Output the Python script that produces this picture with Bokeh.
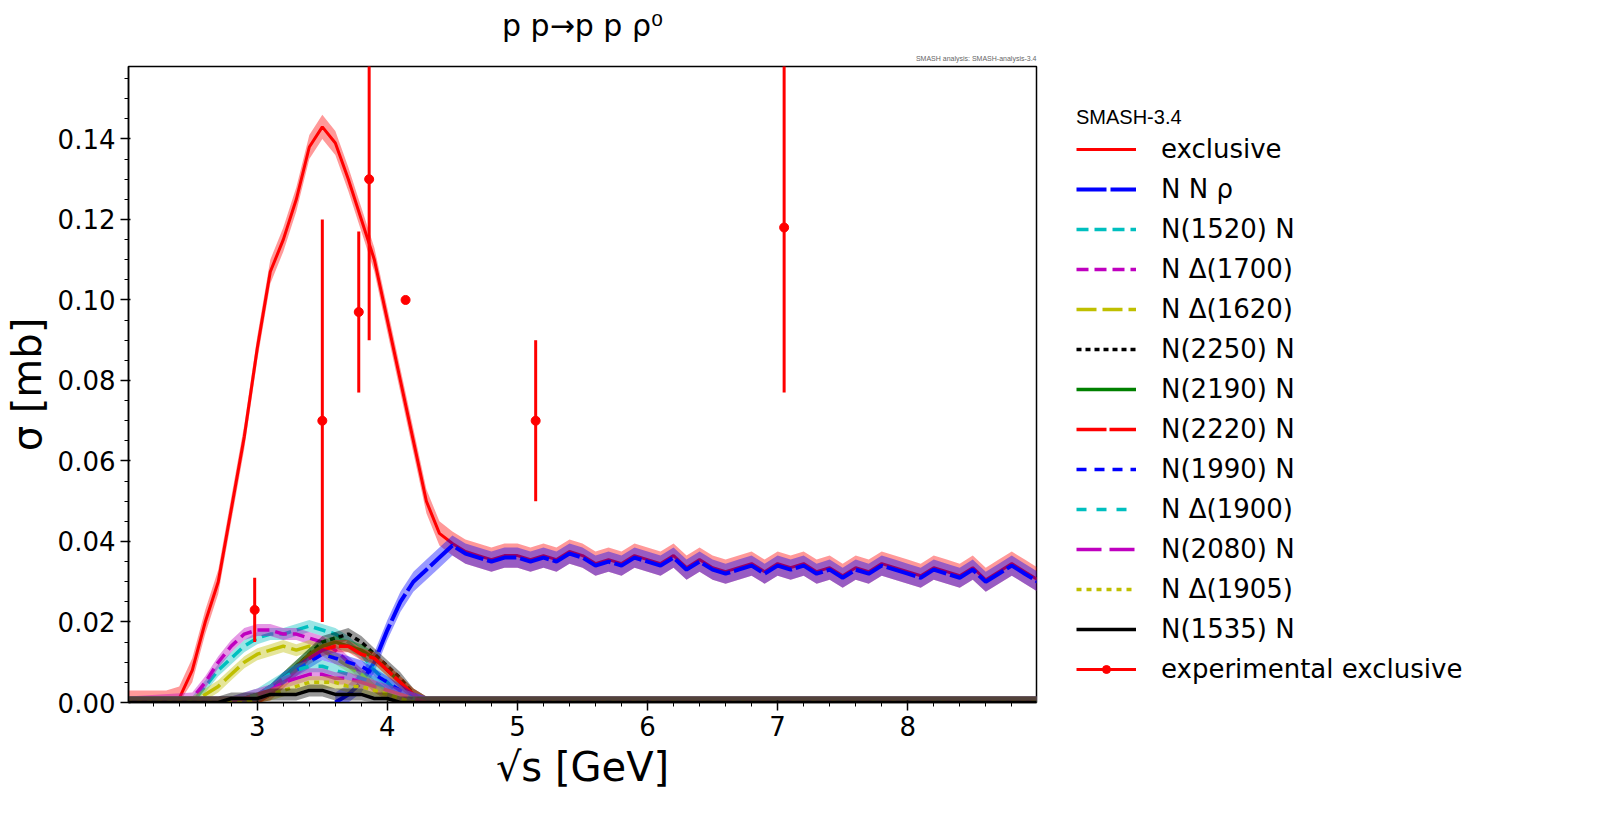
import numpy as np
from bokeh.plotting import figure
from bokeh.models import Range1d, Legend, LegendItem, Title, ColumnDataSource, SingleIntervalTicker, PrintfTickFormatter
from bokeh.embed import file_html
from bokeh.resources import INLINE

# exclusive rise (sqrt(s) = 2.0 .. 4.4, step 0.1)
excl_x = [2.0,2.1,2.2,2.3,2.4,2.5,2.6,2.7,2.8,2.9,3.0,3.1,3.2,3.3,3.4,3.5,3.6,3.7,3.8,3.9,4.0,4.1,4.2,4.3,4.4]
excl_y = [0,0,0,0,0.001,0.008,0.02,0.03,0.048,0.066,0.088,0.107,0.115,0.125,0.138,0.143,0.139,0.13,0.12,0.11,0.095,0.08,0.065,0.05,0.042]
# N N rho
nnr_x = [3.6,3.7,3.8,3.9,4.0,4.1,4.2,4.3,4.4]
nnr_y = [0.0,0.002,0.005,0.01,0.018,0.025,0.03,0.033,0.036]
tail_y = [0.039,0.037,0.036,0.035,0.036,0.036,0.035,0.036,0.035,0.037,
          0.036,0.034,0.035,0.034,0.036,0.035,0.034,0.036,0.033,0.035,
          0.033,0.032,0.033,0.034,0.032,0.034,0.033,0.034,0.032,0.033,
          0.031,0.033,0.032,0.034,0.033,0.032,0.031,0.033,0.032,0.031,
          0.033,0.030,0.032,0.034,0.032,0.030]
tail_x = list(np.round(4.5 + 0.1*np.arange(len(tail_y)), 2))

# resonance channels on sqrt(s) grid
res_x = [2.0,2.5,2.6,2.7,2.8,2.9,3.0,3.1,3.2,3.3,3.4,3.5,3.6,3.7,3.8,3.9,4.0,4.1,4.2,4.3,9.0]
res_names = ["N(1520) N","N \u0394(1700)","N \u0394(1620)","N(2250) N","N(2190) N","N(2220) N",
             "N(1990) N","N \u0394(1900)","N(2080) N","N \u0394(1905)","N(1535) N"]
res_vals = [
 [0,0,0.004,0.008,0.011,0.014,0.016,0.017,0.017,0.018,0.019,0.018,0.017,0.015,0.012,0.008,0.005,0.002,0.0,0,0],
 [0,0.001,0.005,0.01,0.014,0.017,0.018,0.018,0.017,0.017,0.016,0.015,0.013,0.01,0.007,0.004,0.002,0.001,0,0,0],
 [0,0,0.002,0.004,0.007,0.01,0.012,0.013,0.014,0.013,0.014,0.013,0.011,0.009,0.007,0.004,0.002,0.001,0,0,0],
 [0,0,0,0,0,0,0.001,0.003,0.006,0.009,0.012,0.015,0.016,0.017,0.015,0.012,0.009,0.006,0.002,0,0],
 [0,0,0,0,0,0,0.001,0.003,0.006,0.009,0.012,0.014,0.015,0.014,0.013,0.011,0.008,0.005,0.002,0,0],
 [0,0,0,0,0,0,0,0.002,0.005,0.008,0.011,0.013,0.014,0.014,0.012,0.011,0.008,0.005,0.002,0,0],
 [0,0,0,0,0,0,0.001,0.003,0.006,0.008,0.01,0.012,0.011,0.01,0.009,0.007,0.005,0.003,0.001,0,0],
 [0,0,0,0,0,0.001,0.002,0.004,0.006,0.008,0.009,0.009,0.008,0.007,0.006,0.005,0.003,0.002,0.001,0,0],
 [0,0,0,0,0,0.001,0.002,0.003,0.005,0.006,0.007,0.007,0.006,0.006,0.005,0.004,0.003,0.002,0.001,0,0],
 [0,0,0,0,0,0,0.001,0.002,0.003,0.004,0.005,0.005,0.005,0.004,0.004,0.003,0.002,0.001,0,0,0],
 [0,0,0,0,0.001,0.001,0.001,0.002,0.002,0.002,0.003,0.003,0.002,0.002,0.002,0.001,0.001,0,0,0,0],
]
res_colors = ["#00bfbf","#bf00bf","#bfbf00","black","green","red","blue","#00bfbf","#bf00bf","#bfbf00","black"]
res_dash = ["12 6","12 6","20 6","5 4","solid","30 3","10 8","10 10","25 8","5 5","solid"]

# experimental
exp_x = [2.98,3.50,3.78,3.86,4.14,5.14,7.05]
exp_y = [0.023,0.070,0.097,0.130,0.100,0.070,0.118]
exp_e = [0.008,0.050,0.020,0.040,0.000,0.020,0.041]

p = figure(frame_width=908, frame_height=636, output_backend="svg", toolbar_location=None,
           x_range=Range1d(2.01, 8.99), y_range=Range1d(0, 0.158),
           min_border_left=10, min_border_bottom=10, min_border_top=5, min_border_right=10)
p.title.text = "p p\u2192p p \u03c1\u2070"
p.title.text_font_size = "30px"; p.title.text_font_style = "normal"; p.title.align = "center"
p.title.text_font = "DejaVu Sans"; p.title.text_color = "black"
p.add_layout(Title(text="SMASH analysis: SMASH-analysis-3.4", text_font_size="7px",
                   text_font_style="normal", text_color="#666666", align="right"), "above")
p.grid.visible = False
p.outline_line_color = "black"; p.outline_line_width = 1.5
for ax in (p.xaxis, p.yaxis):
    ax.major_label_text_font_size = "26px"
    ax.major_label_text_font = "DejaVu Sans"
    ax.major_label_text_color = "black"
    ax.axis_label_text_font = "DejaVu Sans"
    ax.axis_label_text_font_style = "normal"
    ax.axis_label_text_font_size = "40px"
    ax.axis_label_text_color = "black"
    ax.major_tick_line_width = 1.5
    ax.major_tick_out = 8; ax.minor_tick_out = 4
    ax.axis_line_width = 1.5
p.xaxis.axis_label = "\u221as [GeV]"
p.yaxis.axis_label = "\u03c3 [mb]"
p.xaxis.ticker = SingleIntervalTicker(interval=1, num_minor_ticks=5)
p.yaxis.ticker = SingleIntervalTicker(interval=0.02, num_minor_ticks=4)
p.yaxis.formatter = PrintfTickFormatter(format="%.2f")

items = []
def band_line(x, y, color, dash, w=3.5, bw=0.0025):
    y = np.array(y, dtype=float)
    p.varea(x=x, y1=np.maximum(y-bw, 0), y2=y+bw, fill_color=color, fill_alpha=0.4)
    return p.line(x, y, line_color=color, line_width=w, line_dash=dash)

ex_x = excl_x + tail_x
ex_y = excl_y + [t + 0.0005 for t in tail_y]
r = band_line(ex_x, ex_y, "red", "solid", w=3, bw=0.003)
items.append(LegendItem(label="exclusive", renderers=[r]))
r = band_line(nnr_x + tail_x, nnr_y + tail_y, "blue", "30 4", w=4)
items.append(LegendItem(label="N N \u03c1", renderers=[r]))
for n, v, c, d in zip(res_names, res_vals, res_colors, res_dash):
    r = band_line(res_x, v, c, d, w=3.5, bw=0.0015)
    items.append(LegendItem(label=n, renderers=[r]))

lo = [y-e for y, e in zip(exp_y, exp_e)]
hi = [y+e for y, e in zip(exp_y, exp_e)]
src = ColumnDataSource(dict(x=exp_x, y=exp_y, lo=lo, hi=hi))
seg = p.segment(x0="x", y0="lo", x1="x", y1="hi", source=src, line_color="red", line_width=3)
sc = p.scatter("x", "y", source=src, size=9, color="red")
items.append(LegendItem(label="experimental exclusive", renderers=[seg, sc]))

leg = Legend(items=items, title="SMASH-3.4", title_text_font_size="20px",
             title_text_font_style="normal", title_text_color="black",
             label_text_font_size="26px", label_text_color="black",
             label_text_font="DejaVu Sans", glyph_width=60, spacing=10,
             border_line_color=None, margin=40, padding=5, label_standoff=25,
             location="top_left")
p.add_layout(leg, "right")

open("out.html", "w").write(file_html(p, INLINE))
